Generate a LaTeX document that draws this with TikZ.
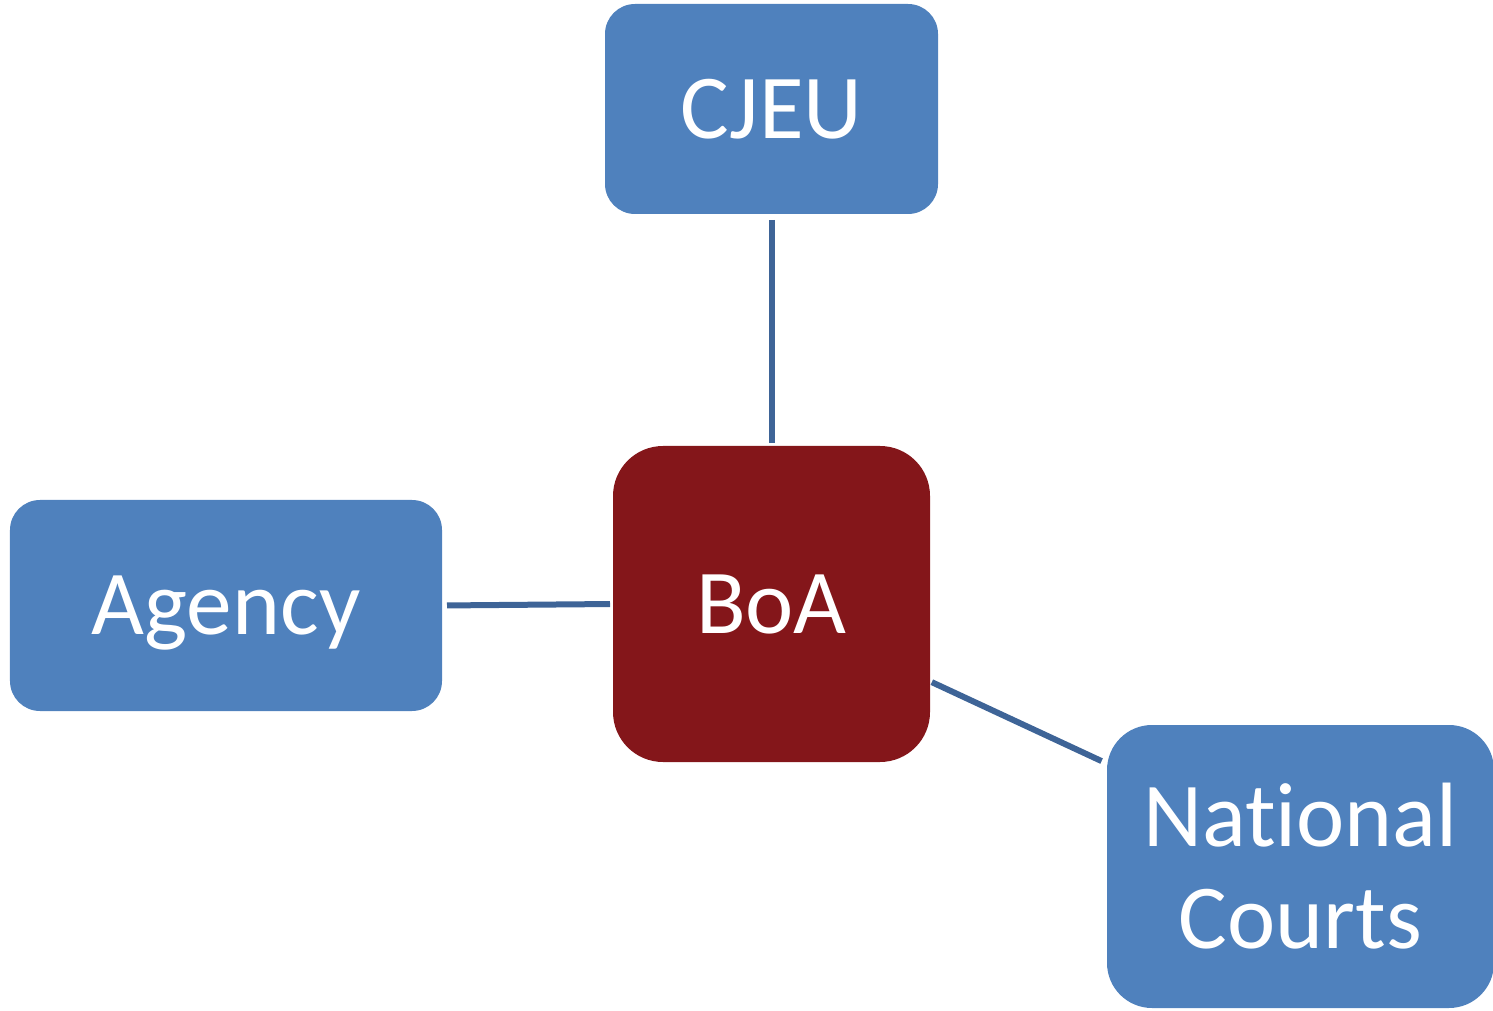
\documentclass[tikz,border=0pt]{standalone}
\usepackage{fontspec}
\setmainfont{Carlito}[Ligatures=NoCommon]
\definecolor{boxblue}{HTML}{4F81BD}
\definecolor{boared}{HTML}{84161A}
\definecolor{linkblue}{HTML}{3E6497}
\begin{document}
\begin{tikzpicture}[box/.style={fill=boxblue,text=white,rounded corners=0.3cm,inner sep=0pt,outer sep=0pt,font=\fontsize{26}{29}\selectfont,align=center},
    link/.style={draw=linkblue,line width=0.06cm}]
    \useasboundingbox (0,0) rectangle (14.93,10.10);
    \node[box,minimum width=3.33cm,minimum height=2.10cm] (cjeu) at (7.715,9.01) {CJEU};
    \node[box,fill=boared,rounded corners=0.5cm,minimum width=3.17cm,minimum height=3.16cm] (boa) at (7.715,4.06) {BoA};
    \node[box,text depth=0pt,minimum width=4.32cm,minimum height=2.11cm] (agency) at (2.26,4.045) {Agency};
    \node[box,rounded corners=0.45cm,minimum width=3.87cm,minimum height=2.83cm] (courts) at (13.005,1.435) {National\\Courts};
    \draw[link,shorten <=0.06cm,shorten >=0.03cm] (cjeu.south) -- (boa.north);
    \draw[link,shorten <=0.05cm,shorten >=0.03cm] (agency.east) -- (boa.west);
    \draw[link,shorten <=0.02cm,shorten >=0.06cm] (boa.-26.5) -- (courts.152.9);
\end{tikzpicture}
\end{document}
